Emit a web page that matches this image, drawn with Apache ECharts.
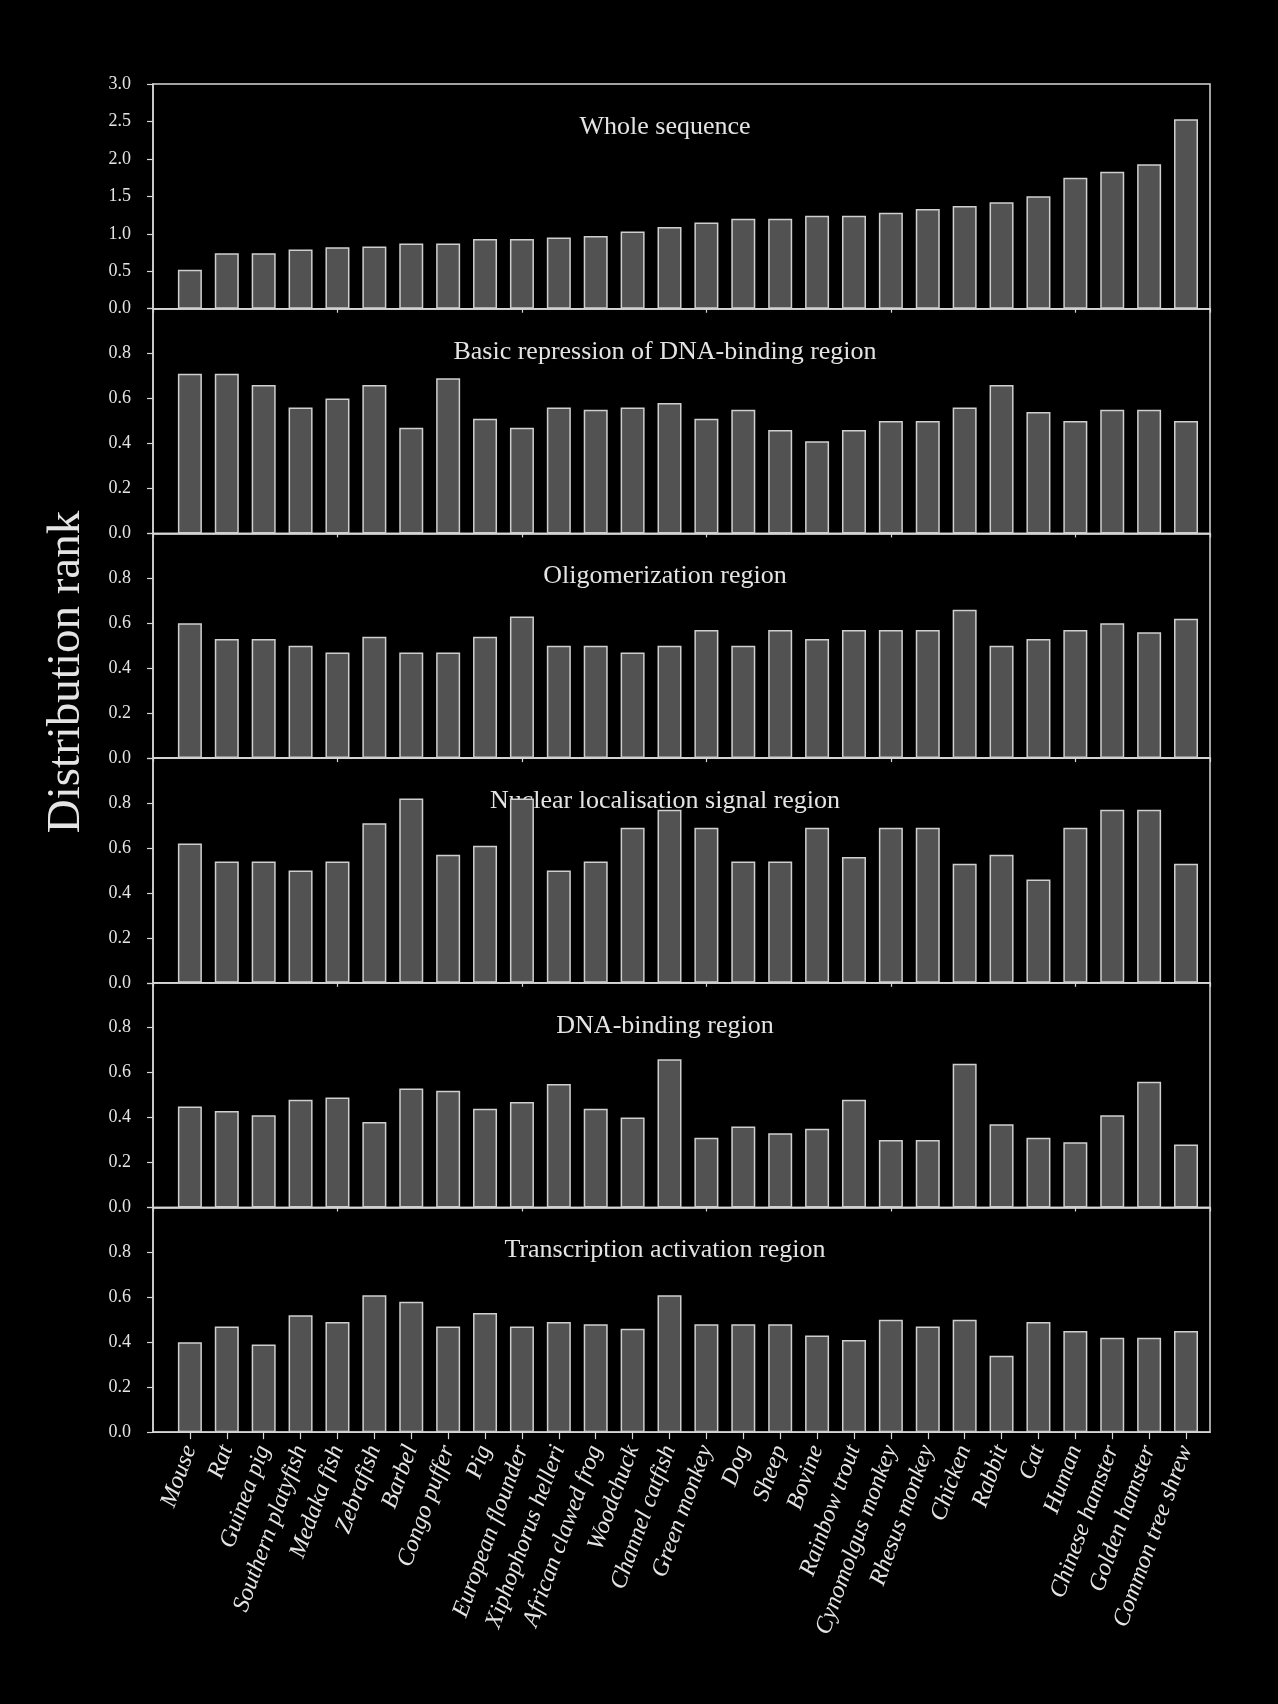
<!DOCTYPE html>
<html>
<head>
<meta charset="utf-8">
<script src="https://cdn.jsdelivr.net/npm/echarts@6/dist/echarts.min.js"></script>
<style>
  html, body { margin: 0; padding: 0; background: #000; }
  #chart { width: 1278px; height: 1704px; }
</style>
</head>
<body>
<div id="chart"></div>
<script>
// Species, in the order they are plotted (x positions 1..28)
const species = [
  'Mouse', 'Rat', 'Guinea pig', 'Southern platyfish', 'Medaka fish', 'Zebrafish',
  'Barbel', 'Congo puffer', 'Pig', 'European flounder', 'Xiphophorus helleri',
  'African clawed frog', 'Woodchuck', 'Channel catfish', 'Green monkey', 'Dog',
  'Sheep', 'Bovine', 'Rainbow trout', 'Cynomolgus monkey', 'Rhesus monkey',
  'Chicken', 'Rabbit', 'Cat', 'Human', 'Chinese hamster', 'Golden hamster',
  'Common tree shrew'
];

const panelTitles = [
  'Whole sequence',
  'Basic repression of DNA-binding region',
  'Oligomerization region',
  'Nuclear localisation signal region',
  'DNA-binding region',
  'Transcription activation region'
];

// Distribution rank per species, one array per region
const wholeSequence = [0.52, 0.74, 0.74, 0.79, 0.82, 0.83, 0.87, 0.87, 0.93, 0.93, 0.95, 0.97, 1.03, 1.09,
  1.15, 1.20, 1.20, 1.24, 1.24, 1.28, 1.33, 1.37, 1.42, 1.50, 1.75, 1.83, 1.93, 2.53];
const basicRepression = [0.71, 0.71, 0.66, 0.56, 0.60, 0.66, 0.47, 0.69, 0.51, 0.47, 0.56, 0.55, 0.56, 0.58,
  0.51, 0.55, 0.46, 0.41, 0.46, 0.50, 0.50, 0.56, 0.66, 0.54, 0.50, 0.55, 0.55, 0.50];
const oligomerization = [0.60, 0.53, 0.53, 0.50, 0.47, 0.54, 0.47, 0.47, 0.54, 0.63, 0.50, 0.50, 0.47, 0.50,
  0.57, 0.50, 0.57, 0.53, 0.57, 0.57, 0.57, 0.66, 0.50, 0.53, 0.57, 0.60, 0.56, 0.62];
const nuclearLocalisation = [0.62, 0.54, 0.54, 0.50, 0.54, 0.71, 0.82, 0.57, 0.61, 0.82, 0.50, 0.54, 0.69, 0.77,
  0.69, 0.54, 0.54, 0.69, 0.56, 0.69, 0.69, 0.53, 0.57, 0.46, 0.69, 0.77, 0.77, 0.53];
const dnaBinding = [0.45, 0.43, 0.41, 0.48, 0.49, 0.38, 0.53, 0.52, 0.44, 0.47, 0.55, 0.44, 0.40, 0.66,
  0.31, 0.36, 0.33, 0.35, 0.48, 0.30, 0.30, 0.64, 0.37, 0.31, 0.29, 0.41, 0.56, 0.28];
const transcriptionActivation = [0.40, 0.47, 0.39, 0.52, 0.49, 0.61, 0.58, 0.47, 0.53, 0.47, 0.49, 0.48, 0.46, 0.61,
  0.48, 0.48, 0.48, 0.43, 0.41, 0.50, 0.47, 0.50, 0.34, 0.49, 0.45, 0.42, 0.42, 0.45];

// Y tick labels
const wholeTicks = [0.0, 0.5, 1.0, 1.5, 2.0, 2.5, 3.0];
const regionTicks = [0.0, 0.2, 0.4, 0.6, 0.8];

const axisTitle = 'Distribution rank';

const panels = [wholeSequence, basicRepression, oligomerization, nuclearLocalisation, dnaBinding, transcriptionActivation];

// Layout
const plotLeft = 153, plotRight = 1210, plotTop = 84, panelH = 224.7;
const xMax = 28.65;
const lineColor = '#d6d6d6';
const textColor = '#e4e4e4';
const serif = '"Liberation Serif", "Times New Roman", serif';

const chart = echarts.init(document.getElementById('chart'), null, { renderer: 'canvas' });

const grids = [], xAxes = [], yAxes = [], series = [], graphics = [];

panels.forEach((vals, i) => {
  const last = i === panels.length - 1;
  const top = plotTop + i * panelH;
  const ticks = i === 0 ? wholeTicks : regionTicks;

  grids.push({
    left: plotLeft, width: plotRight - plotLeft, top: top, height: panelH,
    show: true, borderColor: lineColor, borderWidth: 1.5, backgroundColor: 'transparent'
  });

  xAxes.push({
    gridIndex: i, type: 'value', min: 0, max: xMax,
    interval: last ? 1 : 5,
    axisLine: { show: true, onZero: false, lineStyle: { color: lineColor, width: 1.5 } },
    axisTick: { show: true, inside: false, length: last ? 7 : 4, lineStyle: { color: lineColor, width: 1.2 } },
    splitLine: { show: false },
    axisLabel: last ? {
      show: true, rotate: 70, margin: 14, interval: 0,
      showMinLabel: false, showMaxLabel: false,
      color: textColor, fontFamily: serif, fontStyle: 'italic', fontSize: 24,
      formatter: v => species[Math.round(v) - 1] || ''
    } : { show: false }
  });

  yAxes.push({
    gridIndex: i, type: 'value', min: 0, max: i === 0 ? 3 : 1, interval: i === 0 ? 0.5 : 0.2,
    axisLine: { show: true, lineStyle: { color: lineColor, width: 1.5 } },
    axisTick: { show: true, inside: false, length: 6, lineStyle: { color: lineColor, width: 1.2 } },
    splitLine: { show: false },
    axisLabel: {
      color: textColor, fontFamily: serif, fontSize: 18, margin: 22,
      formatter: v => ticks.some(t => Math.abs(t - v) < 1e-6) ? v.toFixed(1) : ''
    }
  });

  series.push({
    type: 'bar', xAxisIndex: i, yAxisIndex: i, silent: true,
    barWidth: 24,
    data: vals.map((v, k) => [k + 1, v]),
    itemStyle: { color: '#525252', borderColor: '#cfcfcf', borderWidth: 1.5 }
  });

  graphics.push({
    type: 'text', x: 665, y: top + 43,
    style: {
      text: panelTitles[i], fill: textColor, font: '26px ' + serif,
      align: 'center', verticalAlign: 'middle'
    }
  });
});

graphics.push({
  type: 'text', x: 67, y: 672, rotation: Math.PI / 2,
  style: {
    text: axisTitle, fill: textColor, font: '47px ' + serif,
    align: 'center', verticalAlign: 'middle'
  }
});

chart.setOption({
  backgroundColor: '#000',
  animation: false,
  grid: grids,
  xAxis: xAxes,
  yAxis: yAxes,
  series: series,
  graphic: graphics
});
</script>
</body>
</html>
